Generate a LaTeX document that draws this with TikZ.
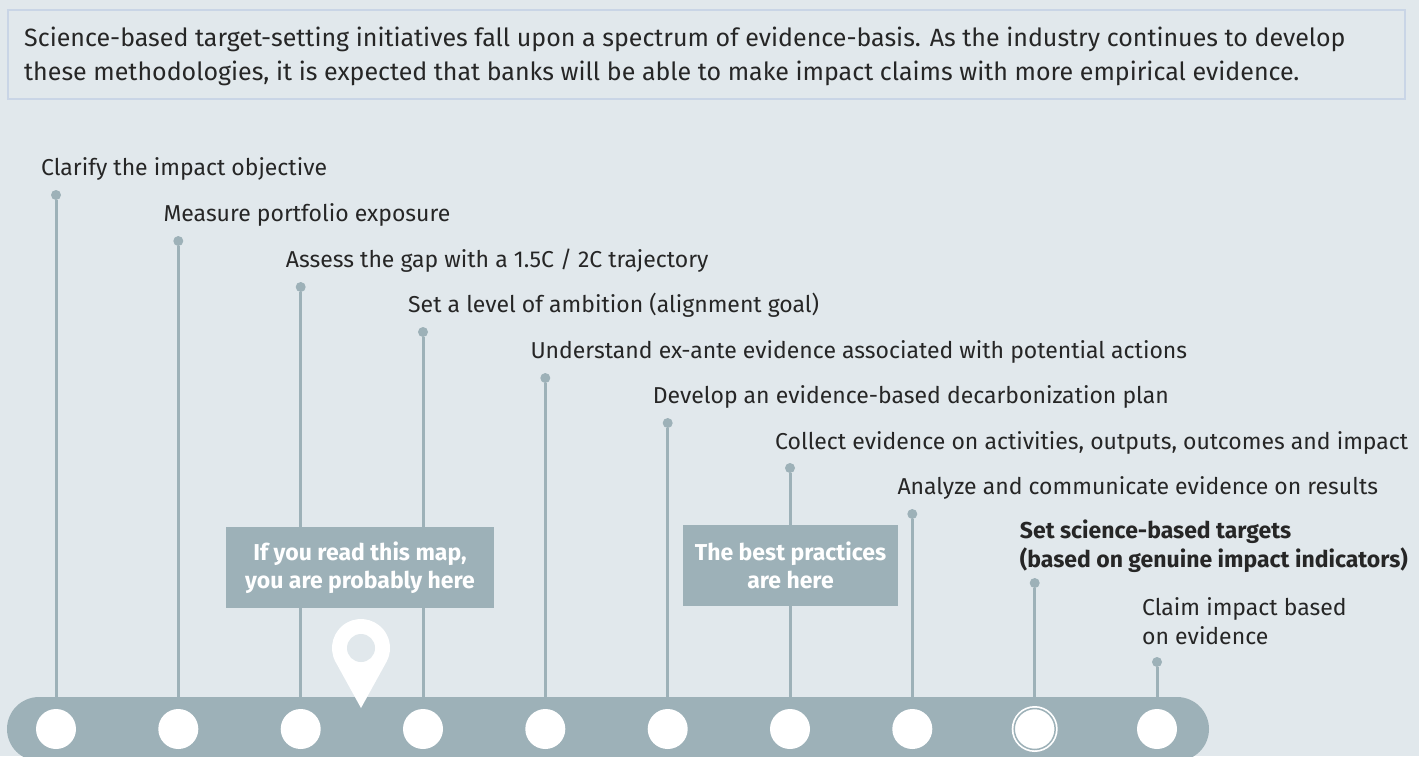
\documentclass[tikz,border=0pt]{standalone}
\usepackage{fontspec}
\setmainfont{Fira Sans}
\definecolor{bgcol}{HTML}{E1E8EC}
\definecolor{slate}{HTML}{9DB1B8}
\definecolor{framecol}{HTML}{C9D5E6}
\definecolor{ink}{HTML}{262626}
\tikzset{
  stepdot/.style={circle, fill=slate, inner sep=0pt, minimum size=10pt},
  stepstop/.style={circle, fill=white, inner sep=0pt, minimum size=40pt},
  steplabel/.style={anchor=base west, inner sep=0pt, text=ink, align=left,
    font=\fontsize{23}{28.5}\selectfont},
  stem/.style={draw=slate, line width=3pt},
  notebox/.style={fill=slate, text=white, align=center, inner sep=0pt,
    font=\bfseries\fontsize{23}{28}\selectfont},
}
\begin{document}
\begin{tikzpicture}[x=1pt,y=-1pt]
  \fill[bgcol] (0,0) rectangle (1419,756);
  \useasboundingbox (0,0) rectangle (1419,756);
  % intro box
  \node[draw=framecol, line width=2pt, fill=bgcol, anchor=north west, inner sep=0pt,
    minimum width=1397pt, minimum height=89pt] (intro) at (7,9) {};
  \node[anchor=base west, inner sep=0pt, text=ink, align=left,
    font=\fontsize{25}{33.5}\selectfont] (introtext) at (24,80)
    {Science-based target-setting initiatives fall upon a spectrum of evidence-basis. As the industry continues to develop\\
     these methodologies, it is expected that banks will be able to make impact claims with more empirical evidence.};
  % steps: stems, dots and labels
  \foreach \i/\x/\yd/\yb/\t in {1/56/195/175/{Clarify the impact objective},
      2/178.3/241/221/{Measure portfolio exposure},
      3/300.7/287/267/{Assess the gap with a 1.5C / 2C trajectory},
      4/423/332/312/{Set a level of ambition (alignment goal)},
      5/545.3/378/358/{Understand ex-ante evidence associated with potential actions},
      6/667.7/423/403/{Develop an evidence-based decarbonization plan},
      7/790/468/449/{Collect evidence on activities, outputs, outcomes and impact},
      8/912.3/514/494/{Analyze and communicate evidence on results},
      9/1034.7/583/567/{\textbf{Set science-based targets}\\\textbf{(based on genuine impact indicators)}},
      10/1157/662/644/{Claim impact based\\on evidence}}
  {
    \coordinate (s\i) at (\x,729);
    \node[stepdot] (d\i) at (\x,\yd) {};
    \draw[stem] (d\i) -- (s\i);
    \node[steplabel] (l\i) at (\x-15,\yb) {\t};
  }
  % notes
  \node[notebox, minimum width=268pt, minimum height=81pt] (here) at (360,567.5)
    {If you read this map,\\you are probably here};
  \node[notebox, minimum width=215pt, minimum height=81pt] (best) at (790.5,565.5)
    {The best practices\\are here};
  % bar
  \fill[slate, rounded corners=32pt] (7,697) rectangle (1209,761);
  \foreach \i in {1,...,10}
    \node[stepstop] (c\i) at (s\i) {};
  \node[stepstop, minimum size=46pt] (target) at (s9) {};
  \draw[slate, line width=1.5pt] (target.center) circle[radius=20.5];
  % pin
  \coordinate (pin) at (361,648);
  \fill[white] (361,708) -- ([shift={(151.1:29)}]pin) arc[start angle=151.1, end angle=388.9, radius=29] -- cycle;
  \fill[bgcol] (pin) circle[radius=14];
\end{tikzpicture}
\end{document}
